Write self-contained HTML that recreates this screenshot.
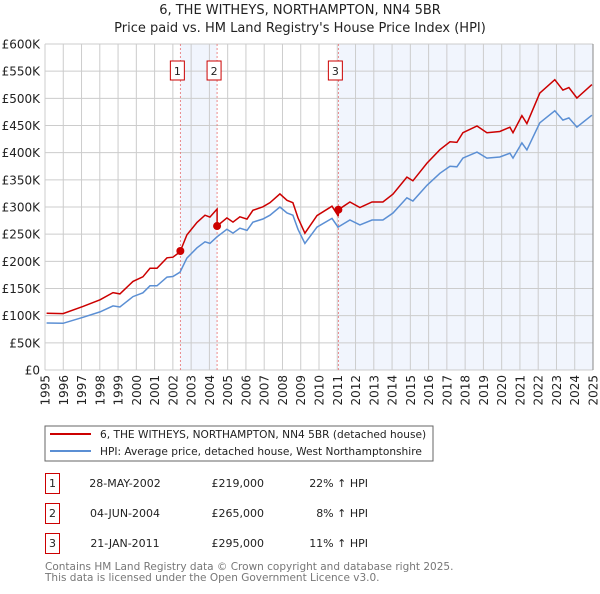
<!DOCTYPE html>
<html><head><meta charset="utf-8"><style>
body{margin:0;background:#fff;font-family:"DejaVu Sans","Liberation Sans",sans-serif;}
svg text{font-family:"DejaVu Sans","Liberation Sans",sans-serif;}
</style></head><body>
<svg id="c" width="600" height="590" xmlns="http://www.w3.org/2000/svg">
<text x="300" y="14" text-anchor="middle" font-size="13" fill="#222">6, THE WITHEYS, NORTHAMPTON, NN4 5BR</text>
<text x="300" y="32" text-anchor="middle" font-size="13" fill="#222">Price paid vs. HM Land Registry's House Price Index (HPI)</text>
<g id="plot"></g>
<rect x="45" y="426" width="388" height="35" fill="#fff" stroke="#666"/>
<line x1="50" y1="434" x2="91" y2="434" stroke="#cc0000" stroke-width="2"/>
<text x="100" y="438" font-size="10.6" fill="#222">6, THE WITHEYS, NORTHAMPTON, NN4 5BR (detached house)</text>
<line x1="50" y1="451" x2="91" y2="451" stroke="#5b8fd4" stroke-width="2"/>
<text x="100" y="455" font-size="10.6" fill="#222">HPI: Average price, detached house, West Northamptonshire</text>
<g id="table" font-size="11" fill="#222"></g>
<text x="45" y="570" font-size="10.5" fill="#777">Contains HM Land Registry data © Crown copyright and database right 2025.</text>
<text x="45" y="581" font-size="10.5" fill="#777">This data is licensed under the Open Government Licence v3.0.</text>
</svg>
<script>
const hpiDates=[1995.09,1995.99,1997.08,1998.01,1998.72,1999.1,1999.82,2000.36,2000.75,2001.13,2001.68,2002.0,2002.39,2002.77,2003.32,2003.76,2004.03,2004.41,2004.96,2005.29,2005.67,2006.06,2006.38,2006.93,2007.32,2007.86,2008.25,2008.57,2008.85,2009.23,2009.89,2010.71,2011.04,2011.69,2012.24,2012.9,2013.5,2014.05,2014.81,2015.14,2015.91,2016.62,2017.17,2017.55,2017.88,2018.65,2019.19,2019.9,2020.45,2020.62,2021.11,2021.38,2022.09,2022.91,2023.35,2023.68,2024.12,2024.94];
const hpiValues=[86.5,86,97,107,118,116,135,142,155,155,171,172,180,206,225,236,233,245,259,252,261,257,272,278,285,300,289,285,259,233,263,279,263,276,267,276,276,289,317,311,340,362,375,374,390,401,390,392,399,390,418,405,455,477,460,464,447,469];
const saleDates=[2002.41,2004.42,2011.06];
const salePrices=[219,265,295];
const saleLabels=["28-MAY-2002","04-JUN-2004","21-JAN-2011"];
const salePriceText=["£219,000","£265,000","£295,000"];
const salePctText=["22% ↑ HPI","8% ↑ HPI","11% ↑ HPI"];
const yTicks=[0,50,100,150,200,250,300,350,400,450,500,550,600];
const yTickLabels=["£0","£50K","£100K","£150K","£200K","£250K","£300K","£350K","£400K","£450K","£500K","£550K","£600K"];
const xYears=[1995,1996,1997,1998,1999,2000,2001,2002,2003,2004,2005,2006,2007,2008,2009,2010,2011,2012,2013,2014,2015,2016,2017,2018,2019,2020,2021,2022,2023,2024,2025];

const X0=45,X1=593,Y0=370,Y1=44;
const xs=t=>X0+(t-1995)*(X1-X0)/30;
const ys=v=>Y0-v*(Y0-Y1)/600;
const NS="http://www.w3.org/2000/svg";
function mk(tag,attrs,parent){const e=document.createElementNS(NS,tag);for(const k in attrs)e.setAttribute(k,attrs[k]);parent.appendChild(e);return e;}
const g=document.getElementById('plot');
function hpiAt(t){for(let i=1;i<hpiDates.length;i++){if(t<=hpiDates[i]){const f=(t-hpiDates[i-1])/(hpiDates[i]-hpiDates[i-1]);return hpiValues[i-1]+f*(hpiValues[i]-hpiValues[i-1]);}}return hpiValues[hpiValues.length-1];}
let r=mk('rect',{x:xs(saleDates[0]),y:Y1,width:xs(saleDates[1])-xs(saleDates[0]),height:Y0-Y1,fill:'#eef3fc',opacity:0.8},g);


r=mk('rect',{x:xs(saleDates[2]),y:Y1,width:X1-xs(saleDates[2]),height:Y0-Y1,fill:'#eef3fc',opacity:0.8},g);


yTicks.forEach((v,i)=>{
 const l=mk('line',{x1:X0,x2:X1,y1:ys(v),y2:ys(v),stroke:'#cccccc','stroke-width':1},g);
 
 
 const t=mk('text',{x:40,y:ys(v)+4.5,'text-anchor':'end','font-size':12,fill:'#222'},g);
 
 
 t.textContent=yTickLabels[i];
});
xYears.forEach(yr=>{
 const l=mk('line',{x1:xs(yr),x2:xs(yr),y1:Y1,y2:Y0,stroke:'#cccccc','stroke-width':1},g);
 
 
 const t=mk('text',{x:0,y:0,'text-anchor':'end','font-size':12,fill:'#222',transform:`translate(${xs(yr)+4.5},${Y0+5}) rotate(-90)`},g);
 
 
 t.textContent=yr;
});
const ax=mk('line',{x1:X1,x2:X1,y1:Y1,y2:Y0,stroke:'#888','stroke-width':1},g);


saleDates.forEach((d,i)=>{
 const l=mk('line',{x1:xs(d),x2:xs(d),y1:Y1,y2:Y0,stroke:'#e87070','stroke-width':0.8,'stroke-dasharray':'2,2'},g);
 
 
 const b=mk('rect',{x:xs(d)-10,y:61,width:14,height:19,fill:'#fff',stroke:'#cc0000'},g);
 
 
 const t=mk('text',{x:xs(d)-3,y:75,'text-anchor':'middle','font-size':11,fill:'#222'},g);
 
 
 t.textContent=i+1;
});
const hp=hpiDates.map((d,i)=>xs(d).toFixed(1)+','+ys(hpiValues[i]).toFixed(1)).join(' ');
let pl=mk('polyline',{points:hp,fill:'none',stroke:'#5b8fd4','stroke-width':1.5},g);


function ratioAt(t){let k=0;for(let i=0;i<saleDates.length;i++)if(t>=saleDates[i])k=i;return salePrices[k]/hpiAt(saleDates[k]);}
const pts=[];
for(let i=0;i<hpiDates.length;i++){
 const d=hpiDates[i];
 saleDates.forEach(sd=>{if(sd>(i?hpiDates[i-1]:0)&&sd<=d){pts.push([sd-0.001,hpiAt(sd-0.001)*ratioAt(sd-0.001)]);pts.push([sd,hpiAt(sd)*ratioAt(sd)]);}});
 pts.push([d,hpiValues[i]*ratioAt(d)]);
}
pl=mk('polyline',{points:pts.map(p=>xs(p[0]).toFixed(1)+','+ys(p[1]).toFixed(1)).join(' '),fill:'none',stroke:'#cc0000','stroke-width':1.5},g);


saleDates.forEach((d,i)=>{
 const c=mk('circle',{cx:xs(d),cy:ys(salePrices[i]),r:4,fill:'#cc0000'},g);
 
 
});
const tb=document.getElementById('table');
saleDates.forEach((d,i)=>{
 const cy=483+i*30;
 const b=mk('rect',{x:45.5,y:cy-9.5,width:14,height:20,fill:'#fff',stroke:'#cc0000'},tb);
 
 
 let t=mk('text',{x:52.5,y:cy+4,'text-anchor':'middle'},tb);
 
 
 t.textContent=i+1;
 t=mk('text',{x:125,y:cy+4,'text-anchor':'middle'},tb);
 
 
 t.textContent=saleLabels[i];
 t=mk('text',{x:264,y:cy+4,'text-anchor':'end'},tb);
 
 
 t.textContent=salePriceText[i];
 t=mk('text',{x:368,y:cy+4,'text-anchor':'end'},tb);
 
 
 t.textContent=salePctText[i];
});
</script>
</body></html>
